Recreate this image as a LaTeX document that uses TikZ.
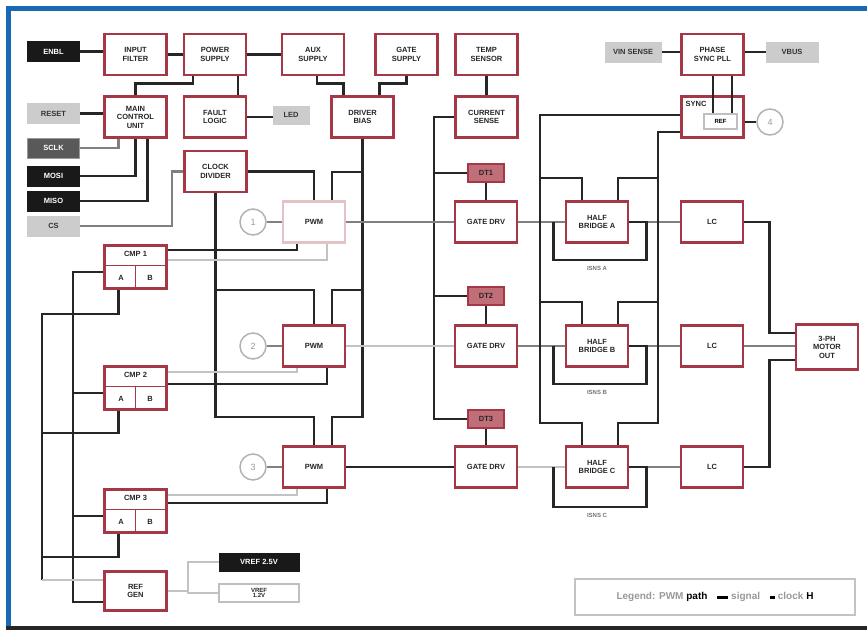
\documentclass[tikz,border=0pt]{standalone}
\usepackage{fontspec}
\setmainfont{Liberation Sans}
\usepackage{xcolor}
\usepackage{tikz}
\usetikzlibrary{calc}
\definecolor{boxred}{RGB}{165,55,70}
\definecolor{tagred}{RGB}{192,110,120}
\definecolor{wiredk}{RGB}{38,38,38}
\definecolor{wirelt}{RGB}{195,195,195}
\definecolor{framebl}{RGB}{25,105,180}

\begin{document}
\begin{tikzpicture}[x=1pt,y=-1pt,
  font=\fontsize{7.5}{8.5}\selectfont\bfseries,
  blk/.style={draw=boxred, line width=2.7pt, fill=white, text=black!85,
    minimum width=62pt, minimum height=41pt, align=center, inner sep=1pt},
  tagbox/.style={draw=boxred, line width=2pt, fill=tagred, text=black!85,
    minimum width=36pt, minimum height=18pt, inner sep=1pt},
  lblk/.style={fill=black!90, text=white, draw=black!90, line width=1pt,
    minimum width=52pt, minimum height=20pt, inner sep=1pt},
  ldgr/.style={fill=black!65, text=white, draw=black!40, line width=1pt,
    minimum width=52pt, minimum height=20pt, inner sep=1pt},
  lgry/.style={fill=black!20, text=black!80, draw=black!20, line width=1pt,
    minimum width=52pt, minimum height=20pt, inner sep=1pt},
  lwht/.style={fill=white, text=black!85, draw=black!25, line width=2pt,
    minimum width=80pt, minimum height=18pt, inner sep=1pt, align=center,
    font=\fontsize{6}{6.5}\selectfont\bfseries},
  clk/.style={circle, draw=black!30, line width=1.5pt, text=black!40,
    minimum size=26pt, inner sep=0pt, font=\fontsize{9}{9}\selectfont},
  note/.style={text=black!55, inner sep=1pt, font=\fontsize{6}{6}\selectfont\bfseries},
  wire/.style={draw=wiredk, line width=2.5pt},
  wlight/.style={draw=wirelt, line width=2.5pt},
  wmid/.style={draw=black!50, line width=2.5pt}]
  \useasboundingbox (0,0) rectangle (867,630);
  % frame
  \draw[framebl, line width=5pt] (8,630) -- (8,8) -- (867,8);
  \draw[wiredk, line width=4pt] (6,628) -- (867,628);

  % input labels
  \node[lblk] (enbl) at (53.5,51.5) {ENBL};
  \node[lgry] (rst) at (53.5,113.5) {RESET};
  \node[ldgr] (sclk) at (53.5,148) {SCLK};
  \node[lblk] (mosi) at (53.5,176) {MOSI};
  \node[lblk] (miso) at (53.5,201) {MISO};
  \node[lgry] (cs) at (53.5,226) {CS};

  % supply row
  \node[blk] (infilt) at (135.5,54.5) {INPUT\\FILTER};
  \node[blk] (psu) at (215,54.5) {POWER\\SUPPLY};
  \node[blk] (aux) at (313,54.5) {AUX\\SUPPLY};
  \node[blk] (gsup) at (406.5,54.5) {GATE\\SUPPLY};
  \node[blk] (temp) at (486.5,54.5) {TEMP\\SENSOR};
  \node[blk] (mcu) at (135.5,117) {MAIN\\CONTROL\\UNIT};
  \node[blk] (fault) at (215,117) {FAULT\\LOGIC};
  \node[lgry, minimum width=36pt, minimum height=18pt] (led) at (291,115) {LED};
  \node[blk] (clkdiv) at (215.5,171.5) {CLOCK\\DIVIDER};
  \node[blk] (bias) at (362.5,117) {DRIVER\\BIAS};
  \node[blk] (isense) at (486.5,117) {CURRENT\\SENSE};

  % sync block
  \node[lgry, minimum width=56pt] (vin) at (633,52) {VIN SENSE};
  \node[blk] (pll) at (712.5,54.5) {PHASE\\SYNC PLL};
  \node[lgry] (vbus) at (792,52) {VBUS};
  \node[blk] (sync) at (712.5,117) {};
  \node[text=black!85, inner sep=1pt] (synct) at (696,104) {SYNC};
  \node[draw=black!25, line width=1.5pt, fill=white, minimum width=33pt,
    minimum height=15pt, inner sep=0pt, font=\fontsize{6}{6}\selectfont\bfseries] (syncin) at (720.5,121.5) {REF};
  \node[clk] (c4) at (770,122) {4};

  % phase A
  \node[clk] (c1) at (253,222) {1};
  \node[blk, draw=boxred!30] (pwm1) at (314,222) {PWM};
  \node[tagbox] (dt1) at (486,173) {DT1};
  \node[blk] (drv1) at (486,222) {GATE DRV};
  \node[blk] (hb1) at (597,222) {HALF\\BRIDGE A};
  \node[note] (is1) at (597,268) {ISNS A};
  \node[blk] (lc1) at (712,222) {LC};
  % phase B
  \node[clk] (c2) at (253,346) {2};
  \node[blk] (pwm2) at (314,346) {PWM};
  \node[tagbox] (dt2) at (486,296) {DT2};
  \node[blk] (drv2) at (486,346) {GATE DRV};
  \node[blk] (hb2) at (597,346) {HALF\\BRIDGE B};
  \node[note] (is2) at (597,392) {ISNS B};
  \node[blk] (lc2) at (712,346) {LC};
  % phase C
  \node[clk] (c3) at (253,467) {3};
  \node[blk] (pwm3) at (314,467) {PWM};
  \node[tagbox] (dt3) at (486,419) {DT3};
  \node[blk] (drv3) at (486,467) {GATE DRV};
  \node[blk] (hb3) at (597,467) {HALF\\BRIDGE C};
  \node[note] (is3) at (597,515) {ISNS C};
  \node[blk] (lc3) at (712,467) {LC};
  \node[blk, minimum height=45pt] (motor) at (827,347) {3-PH\\MOTOR\\OUT};

  % limit comparators
  \node[blk, minimum height=43pt] (lim1) at (135.5,267) {};
  \node[text=black!85, inner sep=1pt] (lim1h) at (135.5,254) {CMP 1};
  \node[text=black!85, inner sep=1pt] (lim1a) at (121,278) {A};
  \node[text=black!85, inner sep=1pt] (lim1b) at (150,278) {B};
  \draw[boxred, line width=1pt] (lim1.west |- 0,265) -- (lim1.east |- 0,265);
  \draw[boxred, line width=1pt] (135.5,265) -- (lim1.south);
  \node[blk, minimum height=43pt] (lim2) at (135.5,388) {};
  \node[text=black!85, inner sep=1pt] (lim2h) at (135.5,375) {CMP 2};
  \node[text=black!85, inner sep=1pt] (lim2a) at (121,399) {A};
  \node[text=black!85, inner sep=1pt] (lim2b) at (150,399) {B};
  \draw[boxred, line width=1pt] (lim2.west |- 0,386) -- (lim2.east |- 0,386);
  \draw[boxred, line width=1pt] (135.5,386) -- (lim2.south);
  \node[blk, minimum height=43pt] (lim3) at (135.5,511) {};
  \node[text=black!85, inner sep=1pt] (lim3h) at (135.5,498) {CMP 3};
  \node[text=black!85, inner sep=1pt] (lim3a) at (121,522) {A};
  \node[text=black!85, inner sep=1pt] (lim3b) at (150,522) {B};
  \draw[boxred, line width=1pt] (lim3.west |- 0,509) -- (lim3.east |- 0,509);
  \draw[boxred, line width=1pt] (135.5,509) -- (lim3.south);

  % reference
  \node[blk, minimum height=39pt] (ref) at (135.5,591) {REF\\GEN};
  \node[lblk, minimum width=80pt, minimum height=18pt] (vref1) at (259,562) {VREF 2.5V};
  \node[lwht] (vref2) at (259,593) {VREF\\[-1pt]1.2V};

  % legend
  \node[draw=wirelt, line width=2pt, fill=white, minimum width=280pt, minimum height=36pt,
    font=\fontsize{10}{10}\selectfont\bfseries] (legend) at (715,597)
    {\textcolor{black!40}{Legend:} \textcolor{black!40}{PWM} path\quad
     \rule[0.2ex]{11pt}{2.5pt}\ \textcolor{black!40}{signal}\quad
     \rule[0.2ex]{5pt}{2.5pt}\ \textcolor{black!40}{clock} H};

  % supply wiring
  \draw[wire] (enbl.east) -- (enbl.east -| infilt.west);
  \draw[wire] (infilt.east) -- (psu.west);
  \draw[wire] (psu.east) -- (aux.west);
  \draw[wire] ([xshift=-22pt]psu.south) -- ++(0,7) -| (mcu.north);
  \draw[wire] ([xshift=23pt]psu.south) -- ([xshift=23pt]fault.north);
  \draw[wire] (fault.east) -- (fault.east -| led.west);
  \draw[wire] (rst.east) -- (rst.east -| mcu.west);
  \draw[wmid] (sclk.east) -| ([xshift=-17pt]mcu.south);
  \draw[wire] (mosi.east) -| (mcu.south);
  \draw[wire] (miso.east) -| ([xshift=12pt]mcu.south);
  \draw[wmid] (cs.east) -| ([xshift=-11pt]clkdiv.west) -- (clkdiv.west);
  \draw[wire] ([xshift=4pt]aux.south) -- ++(0,7) -| ([xshift=-19pt]bias.north);
  \draw[wire] (gsup.south) -- ++(0,7) -| ([xshift=17pt]bias.north);
  \draw[wire] (temp.south) -- (isense.north);

  % clock and bias buses to PWM
  \draw[wire] (clkdiv.east) -| (pwm1.north);
  \draw[wire] (clkdiv.south) |- ([yshift=34pt]pwm2.north) -- (pwm2.north);
  \draw[wire] (clkdiv.south) |- ([yshift=28pt]pwm3.north) -- (pwm3.north);
  \draw[wire] (bias.south) |- ([xshift=18pt,yshift=28pt]pwm1.north) -- ([xshift=18pt]pwm1.north);
  \draw[wire] (bias.south) |- ([xshift=18pt,yshift=34pt]pwm2.north) -- ([xshift=18pt]pwm2.north);
  \draw[wire] (bias.south) |- ([xshift=18pt,yshift=28pt]pwm3.north) -- ([xshift=18pt]pwm3.north);

  % sense bus to dead time
  \draw[wire] (isense.west) -- ++(-20,0) |- (dt1.west);
  \draw[wire] (isense.west) -- ++(-20,0) |- (dt2.west);
  \draw[wire] (isense.west) -- ++(-20,0) |- (dt3.west);
  \draw[wire] (dt1.south) -- (drv1.north);
  \draw[wire] (dt2.south) -- (drv2.north);
  \draw[wire] (dt3.south) -- (drv3.north);

  % phase paths
  \draw[wmid] (c1.east) -- (pwm1.west);
  \draw[wmid] (c2.east) -- (pwm2.west);
  \draw[wmid] (c3.east) -- (pwm3.west);
  \draw[wmid] (pwm1.east) -- (drv1.west);
  \draw[wlight] (pwm2.east) -- (drv2.west);
  \draw[wire] (pwm3.east) -- (drv3.west);
  \draw[wmid] (drv1.east) -- (hb1.west);
  \draw[wmid] (drv2.east) -- (hb2.west);
  \draw[wlight] (drv3.east) -- (hb3.west);
  \draw[wmid] (hb1.east) -- (lc1.west);
  \draw[wmid] (hb2.east) -- (lc2.west);
  \draw[wmid] (hb3.east) -- (lc3.west);
  \draw[wire] ([xshift=-11pt]hb1.west) -- ++(0,38) -| ([xshift=17pt]hb1.east) -- (hb1.east);
  \draw[wire] ([xshift=-11pt]hb2.west) -- ++(0,38) -| ([xshift=17pt]hb2.east) -- (hb2.east);
  \draw[wire] ([xshift=-11pt]hb3.west) -- ++(0,40) -| ([xshift=17pt]hb3.east) -- (hb3.east);

  % sync buses
  \draw[wire] (vin.east) -- (vin.east -| pll.west);
  \draw[wire] (pll.east |- vbus.west) -- (vbus.west);
  \draw[wire] ([xshift=0.5pt]pll.south) -- ([xshift=-7.5pt]syncin.north);
  \draw[wire] ([xshift=19.5pt]pll.south) -- ([xshift=11.5pt]syncin.north);
  \draw[wire] ([yshift=-5pt]sync.east) -- (c4.west);
  \draw[wire] ([yshift=2pt]sync.west) -| ([xshift=-57pt,yshift=22pt]hb1.north) -| ([xshift=-15pt]hb1.north);
  \draw[wire] ([yshift=2pt]sync.west) -| ([xshift=-57pt,yshift=22pt]hb2.north) -| ([xshift=-15pt]hb2.north);
  \draw[wire] ([yshift=2pt]sync.west) -| ([xshift=-57pt,yshift=22pt]hb3.north) -| ([xshift=-15pt]hb3.north);
  \draw[wire] ([yshift=-15pt]sync.west) -| ([xshift=61pt,yshift=22pt]hb1.north) -| ([xshift=21pt]hb1.north);
  \draw[wire] ([yshift=-15pt]sync.west) -| ([xshift=61pt,yshift=22pt]hb2.north) -| ([xshift=21pt]hb2.north);
  \draw[wire] ([yshift=-15pt]sync.west) -| ([xshift=61pt,yshift=22pt]hb3.north) -| ([xshift=21pt]hb3.north);

  % output combine
  \draw[wire] (lc1.east) -| ([xshift=-25pt,yshift=14pt]motor.west) -- ([yshift=14pt]motor.west);
  \draw[wmid] (lc2.east) -- (lc2.east -| motor.west);
  \draw[wire] (lc3.east) -| ([xshift=-25pt,yshift=-13pt]motor.west) -- ([yshift=-13pt]motor.west);

  % comparators to PWM
  \draw[wire] ([yshift=17pt]lim1.east) -| ([xshift=-17pt]pwm1.south);
  \draw[wlight] ([yshift=7pt]lim1.east) -| ([xshift=13pt]pwm1.south);
  \draw[wlight] ([yshift=16pt]lim2.east) -| ([xshift=-17pt]pwm2.south);
  \draw[wire] ([yshift=4pt]lim2.east) -| ([xshift=13pt]pwm2.south);
  \draw[wlight] ([yshift=16pt]lim3.east) -| ([xshift=-17pt]pwm3.south);
  \draw[wire] ([yshift=8pt]lim3.east) -| ([xshift=13pt]pwm3.south);

  % comparator buses to reference
  \draw[wire] ([yshift=-5pt]lim1.west) -- ++(-30,0) |- ([yshift=-11pt]ref.west);
  \draw[wire] ([yshift=-5pt]lim2.west) -- ++(-30,0);
  \draw[wire] ([yshift=-5pt]lim3.west) -- ++(-30,0);
  \draw[wire] ([xshift=-17pt]lim1.south) -- ++(0,24) -| ([xshift=-61pt,yshift=11pt]ref.west);
  \draw[wire] ([xshift=-17pt]lim2.south) -- ++(0,22) -| ([xshift=-61pt,yshift=11pt]ref.west);
  \draw[wire] ([xshift=-17pt]lim3.south) -- ++(0,23) -| ([xshift=-61pt,yshift=11pt]ref.west);
  \draw[wlight] ([xshift=-61pt,yshift=11pt]ref.west) -- ([yshift=11pt]ref.west);
  \draw[wlight] (ref.east) -- ++(20,0) |- (vref1.west);
  \draw[wlight] (ref.east) -- ++(20,0) |- (vref2.west);
\end{tikzpicture}
\end{document}
